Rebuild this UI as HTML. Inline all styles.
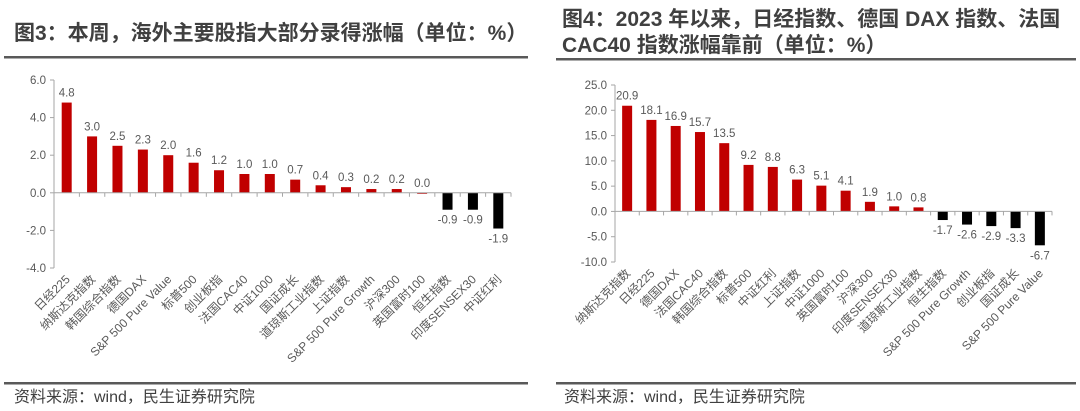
<!DOCTYPE html>
<html><head><meta charset="utf-8">
<style>
body{margin:0;background:#fff;width:1080px;height:411px;overflow:hidden;font-family:"Liberation Sans","Noto Sans CJK SC",sans-serif;}
svg{position:absolute;left:0;top:0}
.t{font-weight:bold;fill:#404040;font-size:21px}
.t2{font-weight:bold;fill:#404040;font-size:21px}
.ax{font-size:11.5px;fill:#595959}
.cx{font-size:12px;fill:#595959}
.src{font-size:16px;fill:#404040}
</style></head><body>
<svg width="1080" height="411">
<text class="t" x="14" y="40">图3：本周，海外主要股指大部分录得涨幅（单位：%）</text>
<rect x="4" y="56" width="524" height="2.5" fill="#595959"/>
<text class="t2" x="562" y="26">图4：2023 年以来，日经指数、德国 DAX 指数、法国</text>
<text class="t2" x="562" y="52">CAC40 指数涨幅靠前（单位：%）</text>
<rect x="556" y="58" width="520" height="2.5" fill="#595959"/>
<rect x="4" y="382" width="524" height="2.5" fill="#595959"/>
<rect x="556" y="382" width="520" height="2.5" fill="#595959"/>
<text class="src" x="14" y="402">资料来源：wind，民生证券研究院</text>
<text class="src" x="564" y="402">资料来源：wind，民生证券研究院</text>
<g id="c1"></g>
<g id="c2"></g>
</svg>
<script>
const cats1=["日经225","纳斯达克指数","韩国综合指数","德国DAX","S&P 500 Pure Value","标普500","创业板指","法国CAC40","中证1000","国证成长","道琼斯工业指数","上证指数","S&P 500 Pure Growth","沪深300","英国富时100","恒生指数","印度SENSEX30","中证红利"];
const vals1=[4.8,3.0,2.5,2.3,2.0,1.6,1.2,1.0,1.0,0.7,0.4,0.3,0.2,0.2,0.0,-0.9,-0.9,-1.9];
const ticks1=[6,4,2,0,-2,-4];
const cats2=["纳斯达克指数","日经225","德国DAX","法国CAC40","韩国综合指数","标普500","中证红利","上证指数","中证1000","英国富时100","沪深300","印度SENSEX30","道琼斯工业指数","恒生指数","S&P 500 Pure Growth","创业板指","国证成长","S&P 500 Pure Value"];
const vals2=[20.9,18.1,16.9,15.7,13.5,9.2,8.8,6.3,5.1,4.1,1.9,1.0,0.8,-1.7,-2.6,-2.9,-3.3,-6.7];
const ticks2=[25,20,15,10,5,0,-5,-10];
const NS="http://www.w3.org/2000/svg";
function mk(g,tag,a){const e=document.createElementNS(NS,tag);for(const k in a)e.setAttribute(k,a[k]);g.appendChild(e);return e;}
function draw(id,cats,vals,ticks,cfg){
  const g=document.getElementById(id);
  const ymax=ticks[0],ymin=ticks[ticks.length-1];
  const y=v=>cfg.top+(ymax-v)/(ymax-ymin)*(cfg.bot-cfg.top);
  const step=(cfg.x1-cfg.x0)/cats.length;
  const x=i=>cfg.x0+step*(i+0.5);
  let l=mk(g,'line',{x1:cfg.x0,x2:cfg.x0,y1:y(ymax),y2:y(ymin),stroke:'#a6a6a6'});
  
  ticks.forEach(t=>{
    const tk=mk(g,'line',{x1:cfg.x0-4,x2:cfg.x0,y1:y(t),y2:y(t),stroke:'#a6a6a6'});
    
    const tx=mk(g,'text',{x:cfg.x0-8,y:y(t)+4,'text-anchor':'end',class:'ax'});
    tx.textContent=t.toFixed(1);
    
  });
  vals.forEach((v,i)=>{
    const top=Math.min(y(v),y(0)),h=Math.max(Math.abs(y(v)-y(0)),1);
    const r=mk(g,'rect',{x:x(i)-cfg.bw/2,y:top,width:cfg.bw,height:h,fill:v<0?'#000':'#c00000'});
    
    const lb=mk(g,'text',{x:x(i),y:v<0?y(v)+14:y(v)-6,'text-anchor':'middle',class:'ax'});
    lb.textContent=v.toFixed(1);
    
    const ct=mk(g,'text',{x:0,y:0,'text-anchor':'end',class:'cx',transform:`translate(${x(i)+4},${y(ymin)+12}) rotate(-45)`});
    ct.textContent=cats[i];
    
  });
  for(let i=0;i<=cats.length;i++){
    const tk=mk(g,'line',{x1:cfg.x0+step*i,x2:cfg.x0+step*i,y1:y(0),y2:y(0)+4,stroke:'#a6a6a6'});
    
  }
  const xa=mk(g,'line',{x1:cfg.x0,x2:cfg.x1,y1:y(0),y2:y(0),stroke:'#a6a6a6'});
  
}
draw('c1',cats1,vals1,ticks1,{x0:54,x1:511,top:80,bot:268,bw:10});
draw('c2',cats2,vals2,ticks2,{x0:615,x1:1052,top:85,bot:262,bw:10});
</script>
</body></html>
